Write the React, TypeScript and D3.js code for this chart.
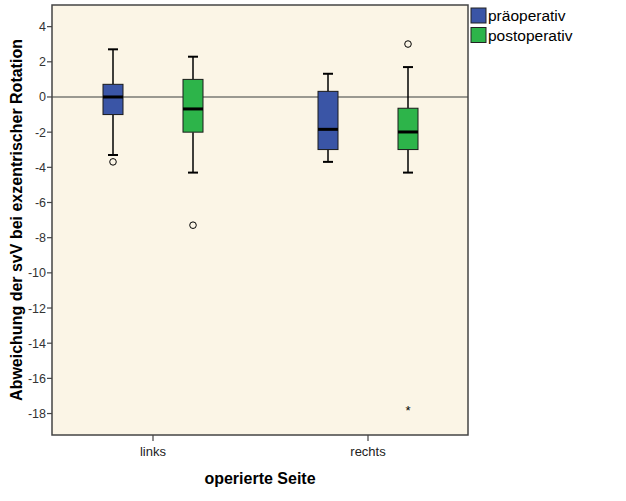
import React from "react";
import * as d3 from "d3";

const categories = ["links", "rechts"];
const seriesNames = ["präoperativ", "postoperativ"];
const seriesColors = ["#3A55A6", "#2DB44A"];
// [whiskerLow, q1, median, q3, whiskerHigh] per category, per series
const praeStats = [
  [-3.3, -1.0, 0.0, 0.72, 2.71],
  [-3.69, -2.99, -1.84, 0.32, 1.32],
];
const postStats = [
  [-4.3, -2.0, -0.68, 1.0, 2.29],
  [-4.3, -2.99, -1.99, -0.64, 1.7],
];
const praeOutliers = [[-3.69], []];
const postOutliers = [[-7.29], [3.01]];
const praeExtremes: number[][] = [[], []];
const postExtremes: number[][] = [[], [-17.75]];
const yTicks = [4, 2, 0, -2, -4, -6, -8, -10, -12, -14, -16, -18];

const W = 626, H = 501;
const plot = { left: 52, top: 5, right: 468, bottom: 435 };

export default function App() {
  const y = d3.scaleLinear().domain([-19.22, 5.23]).range([plot.bottom, plot.top]);
  const x = d3.scaleBand().domain(categories).range([plot.left - 6.5, plot.right + 7.5]);
  const sub = d3.scaleBand().domain(seriesNames).range([-80, 80]).paddingInner(0);
  const stats = [praeStats, postStats];
  const outs = [praeOutliers, postOutliers];
  const extr = [praeExtremes, postExtremes];
  const bw = 20;
  const cx = (c: string) => (x(c) as number) + x.bandwidth() / 2;
  const sx = (s: string) => (sub(s) as number) + sub.bandwidth() / 2;
  const font = "Arial, 'Liberation Sans', sans-serif";

  return (
    <svg width={W} height={H} style={{ position: "absolute", left: 0, top: 0, background: "#fff" }} fontFamily={font}>
      <rect x={plot.left} y={plot.top} width={plot.right - plot.left} height={plot.bottom - plot.top} fill="#FBF5E6" stroke="none" />
      <line x1={plot.left} x2={plot.right} y1={y(0)} y2={y(0)} stroke="#7A7A74" strokeWidth={1.5} />
      {categories.map((c, ci) =>
        seriesNames.map((s, si) => {
          const [wl, q1, md, q3, wh] = stats[si][ci];
          const xc = cx(c) + sx(s);
          return (
            <g key={c + s}>
              <line x1={xc} x2={xc} y1={y(wh)} y2={y(q3)} stroke="#000" strokeWidth={1.5} />
              <line x1={xc} x2={xc} y1={y(q1)} y2={y(wl)} stroke="#000" strokeWidth={1.5} />
              <line x1={xc - 5} x2={xc + 5} y1={y(wh)} y2={y(wh)} stroke="#000" strokeWidth={2} />
              <line x1={xc - 5} x2={xc + 5} y1={y(wl)} y2={y(wl)} stroke="#000" strokeWidth={2} />
              <rect x={xc - bw / 2} y={y(q3)} width={bw} height={y(q1) - y(q3)} fill={seriesColors[si]} stroke="#1a1a1a" strokeWidth={1} />
              <line x1={xc - bw / 2} x2={xc + bw / 2} y1={y(md)} y2={y(md)} stroke="#000" strokeWidth={3} />
              {outs[si][ci].map((v, k) => (
                <circle key={k} cx={xc} cy={y(v)} r={3.3} fill="none" stroke="#000" strokeWidth={1} />
              ))}
              {extr[si][ci].map((v, k) => (
                <text key={k} x={xc} y={y(v) + 6} textAnchor="middle" fontSize={13} fill="#000">*</text>
              ))}
            </g>
          );
        })
      )}
      <rect x={plot.left} y={plot.top} width={plot.right - plot.left} height={plot.bottom - plot.top} fill="none" stroke="#444" strokeWidth={1.5} />
      {yTicks.map((t) => (
        <g key={t}>
          <line x1={plot.left - 5} x2={plot.left} y1={y(t)} y2={y(t)} stroke="#444" strokeWidth={1.2} />
          <text x={plot.left - 6} y={y(t) + 4.5} textAnchor="end" fontSize={12.5} fill="#333">{t}</text>
        </g>
      ))}
      {categories.map((c) => (
        <g key={c}>
          <line x1={cx(c)} x2={cx(c)} y1={plot.bottom} y2={plot.bottom + 6} stroke="#444" strokeWidth={1.2} />
          <text x={cx(c)} y={plot.bottom + 21} textAnchor="middle" fontSize={13} fill="#222">{c}</text>
        </g>
      ))}
      <text x={(plot.left + plot.right) / 2} y={484} textAnchor="middle" fontSize={16} fontWeight="bold" fill="#000">operierte Seite</text>
      <text transform={`translate(22,${(plot.top + plot.bottom) / 2}) rotate(-90)`} textAnchor="middle" fontSize={16} fontWeight="bold" fill="#000">
        Abweichung der svV bei exzentrischer Rotation
      </text>
      {seriesNames.map((s, i) => (
        <g key={s}>
          <rect x={471} y={8 + i * 19.5} width={15} height={15} fill={seriesColors[i]} stroke="#222" strokeWidth={1} />
          <text x={488} y={21 + i * 19.5} fontSize={15.5} fill="#000">{s}</text>
        </g>
      ))}
    </svg>
  );
}
